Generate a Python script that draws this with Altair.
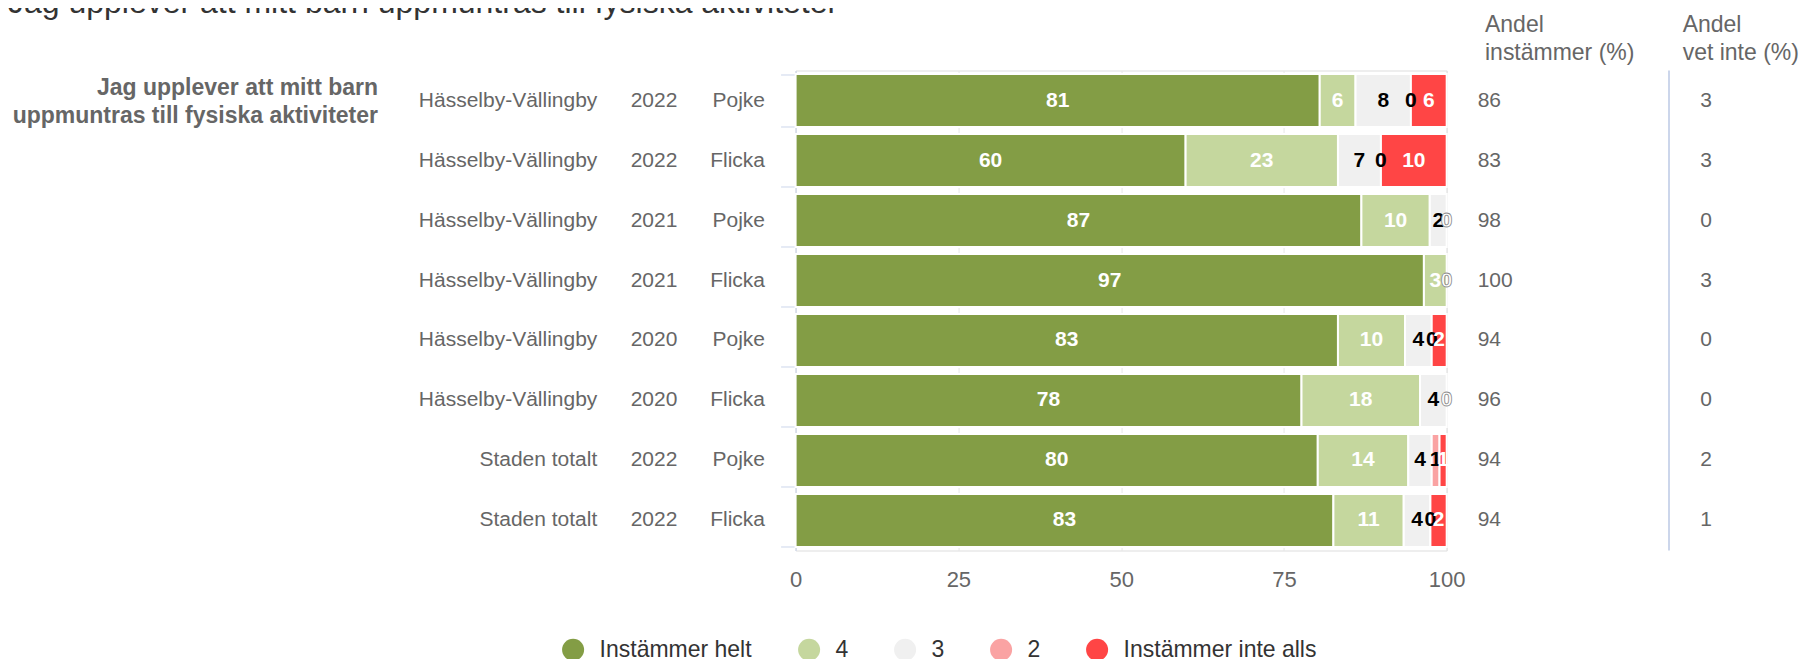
import altair as alt
import pandas as pd

# ---------------- data ----------------
areas = ["Hässelby-Vällingby"] * 6 + ["Staden totalt"] * 2
years = ["2022", "2022", "2021", "2021", "2020", "2020", "2022", "2022"]
genders = ["Pojke", "Flicka", "Pojke", "Flicka", "Pojke", "Flicka", "Pojke", "Flicka"]

categories = ["Instämmer helt", "4", "3", "2", "Instämmer inte alls"]
colors = ["#839d45", "#c5d79e", "#f0f0f0", "#faa3a3", "#ff4545"]

# bar shares (%) as drawn
share_helt = [80.5, 59.9, 86.9, 96.5, 83.3, 77.7, 80.2, 82.6]
share_4 = [5.5, 23.4, 10.5, 3.5, 10.3, 18.2, 13.9, 10.8]
share_3 = [8.5, 6.6, 2.6, 0.0, 4.1, 4.1, 3.6, 4.1]
share_2 = [0.0, 0.0, 0.0, 0.0, 0.0, 0.0, 1.2, 0.0]
share_inte = [5.5, 10.1, 0.0, 0.0, 2.3, 0.0, 1.1, 2.5]

# data labels as printed (None = label not shown)
label_helt = [81, 60, 87, 97, 83, 78, 80, 83]
label_4 = [6, 23, 10, 3, 10, 18, 14, 11]
label_3 = [8, 7, 2, None, 4, 4, 4, 4]
label_2 = [0, 0, None, None, 0, None, 1, 0]
label_inte = [6, 10, 0, 0, 2, 0, 1, 2]

andel_instammer = [86, 83, 98, 100, 94, 96, 94, 94]
andel_vet_inte = [3, 3, 0, 3, 0, 0, 2, 1]

title_text = "Jag upplever att mitt barn uppmuntras till fysiska aktiviteter"
question_lines = ["Jag upplever att mitt barn", "uppmuntras till fysiska aktiviteter"]
header_instammer = ["Andel", "instämmer (%)"]
header_vet_inte = ["Andel", "vet inte (%)"]
x_ticks = [0, 25, 50, 75, 100]

# ---------------- tables ----------------
shares = [share_helt, share_4, share_3, share_2, share_inte]
labels = [label_helt, label_4, label_3, label_2, label_inte]
recs = []
for i in range(len(areas)):
    for ci, cat in enumerate(categories):
        lab = labels[ci][i]
        recs.append({"row": i, "cat": cat, "ci": ci, "share": shares[ci][i],
                     "lab": "" if lab is None else str(lab)})
long_df = pd.DataFrame(recs)

row_df = pd.DataFrame({
    "row": list(range(len(areas))),
    "area": areas, "year": years, "gender": genders,
    "ai": [str(v) for v in andel_instammer],
    "av": [str(v) for v in andel_vet_inte],
})

FONT = "Liberation Sans"
GRAY = "#666666"

xs = alt.Scale(domain=[0, 100], nice=False, zero=True)
x_axis = alt.Axis(values=x_ticks, title=None, grid=True, gridColor="#e6e6e6",
                  domain=False, ticks=False, tickSize=0, labelFontSize=22,
                  labelColor=GRAY, labelPadding=19, labelFlush=False, format="d",
                  labelFont=FONT)
ys = alt.Scale(paddingInner=0.1167, paddingOuter=0.05835)
y_axis = alt.Axis(title=None, labels=False, ticks=True, tickSize=15, tickColor="#ccd6eb",
                  tickBand="extent", domainColor="#ccd6eb", grid=False)
y_enc = alt.Y("row:O", scale=ys, axis=y_axis)

stacked = alt.Chart(long_df).transform_stack(
    stack="share", groupby=["row"], sort=[alt.SortField("ci", order="ascending")],
    as_=["x0", "x1"])

bars = stacked.transform_filter("datum.share > 0").mark_bar(
    stroke="white", strokeWidth=2).encode(
    x=alt.X("x0:Q", scale=xs, axis=x_axis),
    x2="x1:Q",
    y=y_enc,
    color=alt.Color("cat:N", scale=alt.Scale(domain=categories, range=colors),
                    legend=alt.Legend(title=None, orient="none", legendX=-234, legendY=567.5,
                                      direction="horizontal", symbolType="circle",
                                      symbolSize=484, symbolStrokeWidth=0, labelFontSize=23,
                                      labelColor="#333333", labelFont=FONT, labelOffset=15,
                                      columnPadding=45, symbolOpacity=1, padding=0,
                                      labelLimit=0)),
)

bar_labels = stacked.transform_filter("datum.lab != ''").transform_calculate(
    mid="(datum.x0 + datum.x1) / 2").mark_text(
    font=FONT, fontSize=21, fontWeight="bold", align="center", baseline="middle",
    strokeWidth=0.8).encode(
    x=alt.X("mid:Q", scale=xs, axis=x_axis),
    y=y_enc,
    text="lab:N",
    color=alt.condition("datum.cat == '3' || datum.cat == '2'", alt.value("#000000"),
                        alt.value("#ffffff")),
    stroke=alt.condition("datum.cat == 'Instämmer inte alls' && datum.lab == '0'",
                         alt.value("#8a8a8a"), alt.value("transparent")),
)


def row_text(field, x, align):
    return alt.Chart(row_df).mark_text(font=FONT, fontSize=21, color=GRAY, align=align,
                                       baseline="middle").encode(
        x=alt.value(x), y=y_enc, text=f"{field}:N")


area_t = row_text("area", -198.3, "right")
year_t = row_text("year", -141.6, "center")
gender_t = row_text("gender", -30.6, "right")
ai_t = row_text("ai", 682.1, "left")
av_t = row_text("av", 910.4, "center")


def free_text(txt, x, y, size, align="left", weight="normal", color=GRAY, baseline="middle"):
    return alt.Chart(pd.DataFrame({"t": [txt]})).mark_text(
        font=FONT, fontSize=size, fontWeight=weight, color=color, align=align,
        baseline=baseline).encode(x=alt.value(x), y=alt.value(y), text="t:N")


q1 = free_text(question_lines[0], -417.6, 17.0, 23, align="right", weight="bold")
q2 = free_text(question_lines[1], -417.6, 45.5, 23, align="right", weight="bold")
h1a = free_text(header_instammer[0], 689.4, -45.5, 23)
h1b = free_text(header_instammer[1], 689.4, -17.5, 23)
h2a = free_text(header_vet_inte[0], 887.1, -45.5, 23)
h2b = free_text(header_vet_inte[1], 887.1, -17.5, 23)
title = free_text(title_text, -787.6, -57.5, 32, color="#333333", baseline="alphabetic")

sep = alt.Chart(pd.DataFrame({"a": [0]})).mark_rule(color="#ccd6eb", strokeWidth=2).encode(
    x=alt.value(873.4), y=alt.value(0), y2=alt.value(480))

chart = alt.layer(
    bars, bar_labels, area_t, year_t, gender_t, ai_t, av_t,
    q1, q2, h1a, h1b, h2a, h2b, title, sep
).properties(
    width=651.1, height=480,
    autosize=alt.AutoSizeParams(type="none"),
    padding={"left": 787.6, "top": 62.5, "right": 353, "bottom": 116.5},
).configure_view(stroke=None).configure(font=FONT)

chart.save("out.html", embed_options={"renderer": "svg", "actions": False})
